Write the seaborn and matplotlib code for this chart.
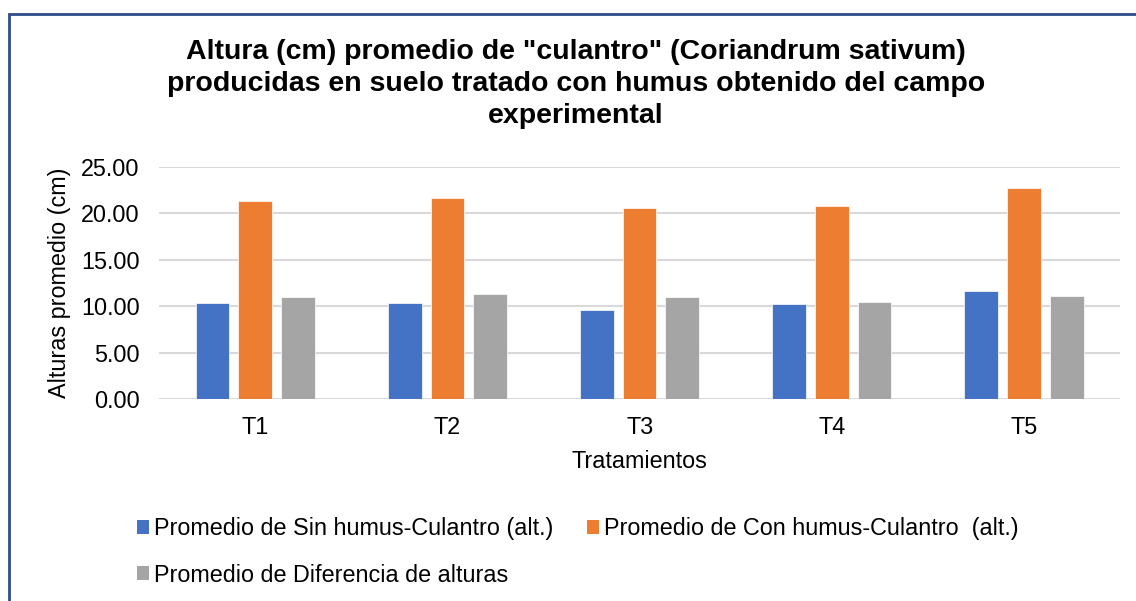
import pandas as pd
import matplotlib
matplotlib.use("Agg")
import matplotlib.pyplot as plt
from matplotlib.patches import Patch, Rectangle
import seaborn as sns

# data
tratamientos = ["T1", "T2", "T3", "T4", "T5"]
sin_humus = [10.31, 10.31, 9.63, 10.28, 11.64]
con_humus = [21.34, 21.69, 20.62, 20.80, 22.78]
diferencia = [10.99, 11.31, 10.96, 10.45, 11.14]

series_names = [
    "Promedio de Sin humus-Culantro (alt.)",
    "Promedio de Con humus-Culantro  (alt.)",
    "Promedio de Diferencia de alturas",
]
colors = ["#4472C4", "#ED7D31", "#A5A5A5"]

df = pd.DataFrame({
    "Tratamientos": tratamientos * 3,
    "valor": sin_humus + con_humus + diferencia,
    "serie": [series_names[0]] * 5 + [series_names[1]] * 5 + [series_names[2]] * 5,
})

sns.set_style("white")
plt.rcParams["font.family"] = ["Liberation Sans", "DejaVu Sans"]
plt.rcParams["text.color"] = "black"
plt.rcParams["axes.labelcolor"] = "black"

fig = plt.figure(figsize=(11.36, 6.01), dpi=100)
ax = fig.add_axes([0.140, 0.336, 0.846, 0.386])

sns.barplot(data=df, x="Tratamientos", y="valor", hue="serie",
            palette=colors, hue_order=series_names, width=0.666, gap=0.21,
            saturation=1, edgecolor="white", linewidth=0.5, ax=ax, legend=False)

ax.set_ylim(0, 25)
ax.set_xlim(-0.5, 4.5)
ax.set_yticks([0, 5, 10, 15, 20, 25])
ax.set_yticklabels([f"{v:.2f}" for v in [0, 5, 10, 15, 20, 25]])
ax.yaxis.grid(True, color="#D9D9D9", linewidth=1.5)
ax.set_axisbelow(True)
for s in ax.spines.values():
    s.set_visible(False)
ax.tick_params(axis="both", length=0, labelsize=16.8, colors="black")
ax.tick_params(axis="x", pad=12)
ax.tick_params(axis="y", pad=14)

ax.set_xlabel("Tratamientos", fontsize=16.8, labelpad=8)
ax.set_ylabel("Alturas promedio (cm)", fontsize=16.8, labelpad=7)

fig.text(0.507, 0.935,
         'Altura (cm) promedio de "culantro" (Coriandrum sativum)\n'
         'producidas en suelo tratado con humus obtenido del campo\n'
         'experimental',
         ha="center", va="top", fontsize=20.5, fontweight="bold",
         linespacing=1.3, color="black")

# legend: row-major order across two columns
handles = [Patch(facecolor=c, edgecolor="none") for c in colors]
order = [0, 2, 1]
fig.legend([handles[i] for i in order], [series_names[i] for i in order],
           ncol=2, loc="upper left", bbox_to_anchor=(0.112, 0.155),
           frameon=False, fontsize=16.8, handlelength=0.55, handleheight=0.55,
           handletextpad=0.2, columnspacing=1.42, labelspacing=1.0,
           borderaxespad=0)

# chart area border (cropped on right and bottom)
fig.patches.append(Rectangle((9 / 1136, -0.05), 1.1, 1 - 14 / 601 + 0.05,
                             transform=fig.transFigure, fill=False,
                             edgecolor="#2F4B8A", linewidth=2))

fig.savefig("out.png", dpi=100)
